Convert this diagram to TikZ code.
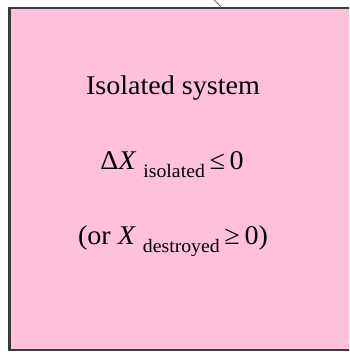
\documentclass[tikz,border=0pt]{standalone}
\usepackage{fontspec}
\setmainfont{Liberation Serif}
\definecolor{boxpink}{HTML}{FFC0DC}
\definecolor{boxedge}{HTML}{3A3A3A}
\tikzset{
  txt/.style={anchor=base, inner sep=0pt, font=\fontsize{27}{32}\selectfont, xscale=1.04},
}
\newcommand{\sbs}[1]{\raisebox{-8pt}{\fontsize{19}{19}\selectfont #1}}
\begin{document}
\begin{tikzpicture}[x=1pt,y=1pt]
\useasboundingbox (0,0) rectangle (349,352);
\begin{scope}
\clip (0,0) rectangle (349,352);
\draw[fill=boxpink, draw=boxedge, line width=2.2pt] (9.5,2) rectangle (370,344);
\draw[boxedge!80, line width=0.8pt] (213,353) .. controls (217,349) and (220,347) .. (221,344);
\end{scope}
\node[txt] (title) at (173,257) {Isolated system};
\node[txt] (eq1) at (172,182) {Δ\textit{X} \sbs{isolated}\,≤\,0};
\node[txt] (eq2) at (173,107) {(or \textit{X} \sbs{destroyed}\,≥\,0)};
\end{tikzpicture}
\end{document}
